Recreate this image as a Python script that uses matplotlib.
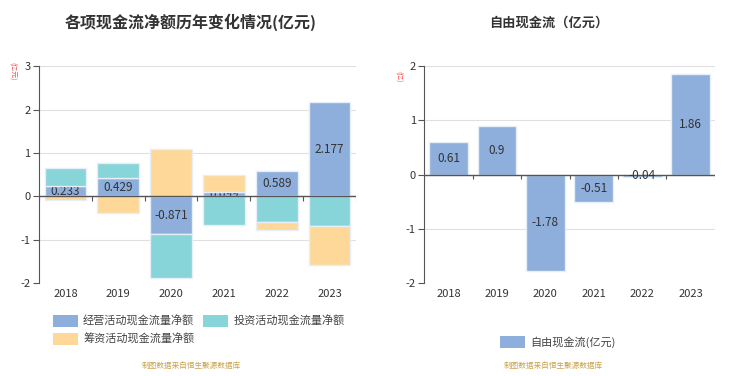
import matplotlib
matplotlib.use('Agg')
import matplotlib.pyplot as plt
from matplotlib.patches import Patch
import numpy as np

plt.rcParams['font.family'] = ['Noto Sans CJK SC', 'DejaVu Sans']

years = ['2018', '2019', '2020', '2021', '2022', '2023']
operating = [0.233, 0.429, -0.871, 0.099, 0.589, 2.177]
investing = [0.42, 0.33, -1.02, -0.67, -0.585, -0.68]
financing = [-0.09, -0.38, 1.08, 0.40, -0.19, -0.90]
free_cf = [0.61, 0.9, -1.78, -0.51, -0.04, 1.86]

op_labels = ['0.233', '0.429', '-0.871', '0.099', '0.589', '2.177']
fcf_labels = ['0.61', '0.9', '-1.78', '-0.51', '-0.04', '1.86']

c_op = '#8eaedb'
c_inv = '#87d5d8'
c_fin = '#fed898'
edge = '#e6eef8'
txt = '#333333'
axis_c = '#555555'
grid_c = '#e0e0e0'
src_c = '#c9a24c'

fig = plt.figure(figsize=(7.43, 3.76), dpi=100)


def style_axis(ax, ylim, yticks):
    x = np.arange(len(years))
    ax.set_xlim(-0.5, len(years) - 0.5)
    ax.set_ylim(*ylim)
    ax.set_yticks(yticks)
    ax.set_yticklabels([str(t) for t in yticks])
    ax.set_xticks(x)
    ax.set_xticklabels(years)
    ax.tick_params(axis='x', length=0, labelsize=8, colors=txt, pad=4)
    ax.tick_params(axis='y', length=4, labelsize=8, colors=txt, color=axis_c, pad=2)
    for s in ['top', 'right', 'bottom']:
        ax.spines[s].set_visible(False)
    ax.spines['left'].set_color(axis_c)
    ax.grid(axis='y', color=grid_c, linewidth=0.8, zorder=0)
    ax.set_axisbelow(True)
    ax.axhline(0, color=axis_c, linewidth=1, zorder=5)
    tick_len = (ylim[1] - ylim[0]) * 0.02
    ax.vlines(np.arange(len(years) + 1) - 0.5, -tick_len, 0, color=axis_c, linewidth=0.8, zorder=5)


# left chart: stacked cash flows
ax1 = fig.add_axes([0.0525, 0.247, 0.4265, 0.577])
x = np.arange(len(years))
w = 0.79
pos = np.zeros(len(years))
neg = np.zeros(len(years))
for vals, col, z in [(operating, c_op, 2), (investing, c_inv, 4), (financing, c_fin, 4)]:
    v = np.array(vals)
    bottom = np.where(v >= 0, pos, neg)
    ax1.bar(x, v, w, bottom=bottom, color=col, edgecolor=edge, linewidth=1, zorder=z)
    pos = pos + np.where(v >= 0, v, 0)
    neg = neg + np.where(v < 0, v, 0)
for xi, v, lab in zip(x, operating, op_labels):
    ax1.text(xi, v / 2, lab, ha='center', va='center', fontsize=8.5, color=txt, zorder=3)
style_axis(ax1, (-2, 3), [-2, -1, 0, 1, 2, 3])
fig.text(0.016, 0.81, '(亿元)', rotation=-90, fontsize=5, color='#ff4d4d', ha='center', va='center')

# right chart: free cash flow
ax2 = fig.add_axes([0.571, 0.247, 0.391, 0.577])
ax2.bar(x, free_cf, 0.8, color=c_op, edgecolor=edge, linewidth=1, zorder=4)
for xi, v, lab in zip(x, free_cf, fcf_labels):
    ax2.text(xi, v / 2, lab, ha='center', va='center', fontsize=8.5, color=txt, zorder=6)
style_axis(ax2, (-2, 2), [-2, -1, 0, 1, 2])
fig.text(0.536, 0.795, '(亿)', rotation=-90, fontsize=5, color='#ff4d4d', ha='center', va='center')

# titles
fig.text(0.256, 0.94, '各项现金流净额历年变化情况(亿元)', ha='center', va='center',
         fontsize=11.5, fontweight='bold', color='#333333')
fig.text(0.739, 0.94, '自由现金流（亿元）', ha='center', va='center',
         fontsize=9.5, fontweight='bold', color='#333333')

# legends (column-major order so row 1 is operating / investing)
h1 = [Patch(facecolor=c_op, label='经营活动现金流量净额'),
      Patch(facecolor=c_fin, label='筹资活动现金流量净额'),
      Patch(facecolor=c_inv, label='投资活动现金流量净额')]
fig.legend(handles=h1, loc='upper left', bbox_to_anchor=(0.058, 0.188), ncol=2, frameon=False,
           fontsize=8, handlelength=2.2, handleheight=1.2, columnspacing=0.8, handletextpad=0.5,
           labelspacing=0.6, labelcolor='#444444')
h2 = [Patch(facecolor=c_op, label='自由现金流(亿元)')]
fig.legend(handles=h2, loc='center left', bbox_to_anchor=(0.66, 0.09), frameon=False,
           fontsize=8, handlelength=2.2, handleheight=1.2, handletextpad=0.5, labelcolor='#444444')

# source notes
fig.text(0.257, 0.027, '制图数据来自恒生聚源数据库', ha='center', va='center', fontsize=5.5, color=src_c)
fig.text(0.744, 0.027, '制图数据来自恒生聚源数据库', ha='center', va='center', fontsize=5.5, color=src_c)

fig.savefig('out.png', dpi=100)
